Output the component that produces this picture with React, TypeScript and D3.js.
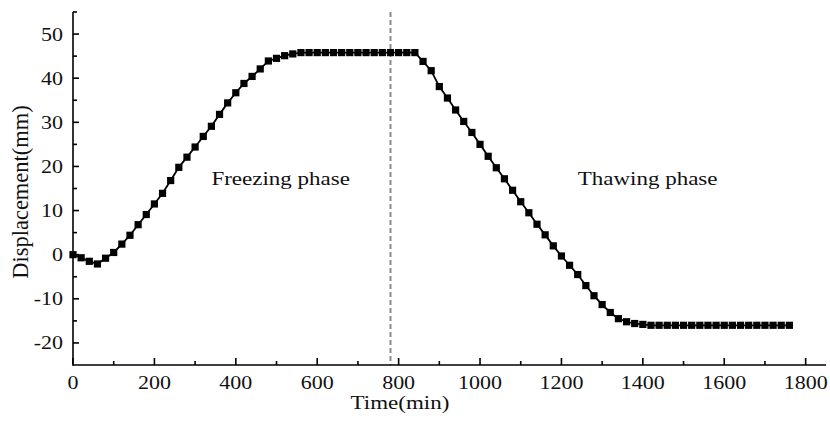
import React from "react"
import * as d3 from "d3"

// time (min) and displacement (mm), sampled every 20 min
const times = [
  0, 20, 40, 60, 80, 100, 120, 140, 160, 180, 200, 220, 240, 260, 280, 300,
  320, 340, 360, 380, 400, 420, 440, 460, 480, 500, 520, 540, 560, 580, 600,
  620, 640, 660, 680, 700, 720, 740, 760, 780, 800, 820, 840, 860, 880, 900,
  920, 940, 960, 980, 1000, 1020, 1040, 1060, 1080, 1100, 1120, 1140, 1160,
  1180, 1200, 1220, 1240, 1260, 1280, 1300, 1320, 1340, 1360, 1380, 1400,
  1420, 1440, 1460, 1480, 1500, 1520, 1540, 1560, 1580, 1600, 1620, 1640,
  1660, 1680, 1700, 1720, 1740, 1760,
]
const displacement = [
  0, -0.7, -1.5, -2.1, -0.8, 0.5, 2.4, 4.4, 6.8, 9.1, 11.5, 13.9, 16.8, 19.8,
  22.1, 24.4, 26.8, 29.1, 31.8, 34.4, 36.7, 38.8, 40.4, 42.1, 43.9, 44.5, 45.1,
  45.5, 45.8, 45.8, 45.8, 45.8, 45.8, 45.8, 45.8, 45.8, 45.8, 45.8, 45.8, 45.8,
  45.8, 45.8, 45.8, 43.8, 41.7, 38.1, 35.5, 32.8, 30.2, 27.7, 25.0, 22.3, 19.7,
  17.2, 14.6, 12.0, 9.5, 6.9, 4.5, 2.0, -0.3, -2.4, -4.5, -7.0, -9.3, -11.3,
  -13.1, -14.5, -15.2, -15.6, -15.8, -16, -16, -16, -16, -16, -16, -16, -16,
  -16, -16, -16, -16, -16, -16, -16, -16, -16, -16,
]
const xTicks = [0, 200, 400, 600, 800, 1000, 1200, 1400, 1600, 1800]
const yTicks = [-20, -10, 0, 10, 20, 30, 40, 50]
const phaseSplit = 780
const phaseLabels = [
  { text: "Freezing phase", at: 340, value: 15.8 },
  { text: "Thawing phase", at: 1240, value: 15.8 },
]

const W = 830
const H = 421
const font = "'Liberation Serif', 'Times New Roman', serif"
// the source picture is squashed vertically, so text is too
const squash = "scale(1, 0.86)"

export default function App() {
  const x = d3.scaleLinear().domain([0, 1850]).range([73, 826])
  const y = d3.scaleLinear().domain([-25, 55]).range([365, 12])

  const xMinor = d3.range(100, 1850, 200)
  const yMinor = d3.range(-15, 56, 10)

  const pts = times.map((t, i) => [t, displacement[i]] as [number, number])
  const line = d3
    .line<[number, number]>()
    .x(d => x(d[0]))
    .y(d => y(d[1]))

  const [x0, x1] = x.range()
  const [y0, y1] = y.range()

  return (
    <div style={{ position: "absolute", left: 0, top: 0 }}>
      <svg width={W} height={H} style={{ display: "block", background: "#fff" }}>
        {/* split line */}
        <line
          x1={x(phaseSplit)}
          x2={x(phaseSplit)}
          y1={y1}
          y2={y0}
          stroke="#8a8a8a"
          strokeWidth={2}
          strokeDasharray="5 3"
        />

        {/* series */}
        <path d={line(pts) ?? ""} fill="none" stroke="#000" strokeWidth={1.8} />
        {pts.map((d, i) => (
          <rect
            key={i}
            x={x(d[0]) - 3.6}
            y={y(d[1]) - 3.6}
            width={7.2}
            height={7.2}
            fill="#000"
          />
        ))}

        {/* axes */}
        <g stroke="#000" strokeWidth={1.6}>
          <line x1={x0} x2={x1} y1={y0} y2={y0} />
          <line x1={x0} x2={x0} y1={y0 + 0.8} y2={y1} />
          {xTicks.map(t => (
            <line key={"xt" + t} x1={x(t)} x2={x(t)} y1={y0} y2={y0 - 7} />
          ))}
          {xMinor.map(t => (
            <line key={"xm" + t} x1={x(t)} x2={x(t)} y1={y0} y2={y0 - 4} />
          ))}
          {yTicks.map(t => (
            <line key={"yt" + t} x1={x0} x2={x0 + 6} y1={y(t)} y2={y(t)} />
          ))}
          {yMinor.map(t => (
            <line key={"ym" + t} x1={x0} x2={x0 + 4} y1={y(t)} y2={y(t)} />
          ))}
        </g>

        <g fontFamily={font} fill="#111">
          {xTicks.map(t => (
            <text
              key={"xl" + t}
              transform={`translate(${x(t)}, 389) ${squash}`}
              textAnchor="middle"
              fontSize={22}
            >
              {t}
            </text>
          ))}
          {yTicks.map(t => (
            <text
              key={"yl" + t}
              transform={`translate(63, ${y(t) + 6.5}) ${squash}`}
              textAnchor="end"
              fontSize={22}
            >
              {t}
            </text>
          ))}
          <text
            transform={`translate(400, 409) ${squash}`}
            textAnchor="middle"
            fontSize={23}
          >
            Time(min)
          </text>
          <text
            transform={`translate(28, 192) rotate(-90)`}
            textAnchor="middle"
            fontSize={22.5}
          >
            Displacement(mm)
          </text>
          {phaseLabels.map(p => (
            <text
              key={p.text}
              transform={`translate(${x(p.at)}, ${y(p.value)}) ${squash}`}
              fontSize={23}
            >
              {p.text}
            </text>
          ))}
        </g>
      </svg>
    </div>
  )
}
